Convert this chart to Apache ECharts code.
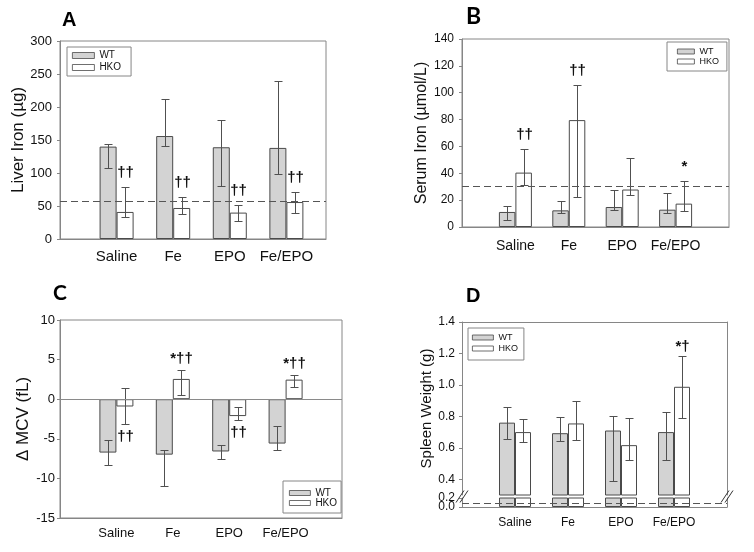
<!DOCTYPE html>
<html><head><meta charset="utf-8">
<script src="https://cdn.jsdelivr.net/npm/echarts@6/dist/echarts.min.js"></script>
<style>html,body{margin:0;padding:0;background:#fff}#c{width:754px;height:552px}</style>
</head><body><div id="c"></div>
<script>
// ---------- data ----------
const categories = ['Saline', 'Fe', 'EPO', 'Fe/EPO'];
const groupNames = ['WT', 'HKO'];

// A: Liver Iron (µg)
const liverWT = [140, 156, 139, 138];
const liverWTLow = [108, 141, 81, 98];
const liverWTHigh = [144, 212, 180, 240];
const liverHKO = [41, 47, 40, 56];
const liverHKOLow = [33, 38, 28, 40];
const liverHKOHigh = [79, 64, 51, 71];
const liverRef = 57;
const liverHKOMarks = ['††', '††', '††', '††'];
const liverTicks = [0, 50, 100, 150, 200, 250, 300];

// B: Serum Iron (µmol/L)
const serumWT = [11.2, 12.4, 14.9, 12.9];
const serumWTLow = [5.2, 10.2, 12.9, 10.7];
const serumWTHigh = [15.9, 19.2, 27.9, 25.1];
const serumHKO = [40.5, 79.6, 27.9, 17.4];
const serumHKOLow = [31.3, 22.6, 24.1, 12.2];
const serumHKOHigh = [58, 105.5, 51.7, 34.6];
const serumRef = 30;
const serumHKOMarks = ['††', '††', '', '*'];
const serumTicks = [0, 20, 40, 60, 80, 100, 120, 140];

// C: Δ MCV (fL)
const mcvWT = [-6.74, -7.0, -6.6, -5.6];
const mcvWTLow = [-8.25, -11.0, -7.5, -6.45];
const mcvWTHigh = [-5.2, -6.45, -5.8, -3.4];
const mcvHKO = [-0.92, 2.56, -2.13, 2.47];
const mcvHKOLow = [-3.1, 0.59, -2.6, 1.6];
const mcvHKOHigh = [1.43, 3.73, -1.0, 3.1];
const mcvHKOMarks = ['††', '*††', '††', '*††'];
const mcvTicks = [-15, -10, -5, 0, 5, 10];

// D: Spleen Weight (g)
const spleenWT = [0.76, 0.693, 0.71, 0.70];
const spleenWTLow = [0.657, 0.642, 0.388, 0.525];
const spleenWTHigh = [0.862, 0.796, 0.80, 0.826];
const spleenHKO = [0.70, 0.755, 0.617, 0.988];
const spleenHKOLow = [0.636, 0.649, 0.521, 0.787];
const spleenHKOHigh = [0.781, 0.898, 0.791, 1.182];
const spleenRef = 0.08;
const spleenHKOMarks = ['', '', '', '*†'];
const spleenUpperTicks = [0.4, 0.6, 0.8, 1.0, 1.2, 1.4];
const spleenLowerTicks = [0.0, 0.2];
const spleenBreak = [0.2, 0.3];

// ---------- styles ----------
const FONT = '"Liberation Sans", Arial, sans-serif';
const GRAY = '#d3d3d3', EDGE = '#4a4a4a', FRAME = '#868686', ERR = '#505050', TXT = '#111';

const chart = echarts.init(document.getElementById('c'), null, {renderer: 'canvas'});

const grids = [
  {left: 60, top: 41, width: 266, height: 198, show: true},
  {left: 462, top: 39, width: 267, height: 188, show: true},
  {left: 60, top: 320, width: 282, height: 198, show: true},
  {left: 462, top: 322, width: 265, height: 173, show: false},
  {left: 462, top: 498, width: 265, height: 9, show: false}
].map(g => Object.assign({borderColor: FRAME, borderWidth: 1, backgroundColor: 'transparent', outerBoundsMode: 'none', containLabel: false}, g));

function xAx(gi, max, fontSize, margin, opts) {
  return Object.assign({
    gridIndex: gi, type: 'value', min: 0, max: max, interval: 1,
    axisLine: {show: true, onZero: false, lineStyle: {color: FRAME, width: 1}},
    axisTick: {show: false}, splitLine: {show: false},
    axisLabel: {show: true, fontSize: fontSize, color: TXT, margin: margin, fontFamily: FONT,
      formatter: v => (Number.isInteger(v) && categories[v - 1]) ? categories[v - 1] : ''}
  }, opts || {});
}
function yAx(gi, ticks, fontSize, margin, name, nameSize, nameGap, opts) {
  return Object.assign({
    gridIndex: gi, type: 'value', min: ticks[0], max: ticks[ticks.length - 1], interval: ticks[1] - ticks[0],
    axisLine: {show: true, onZero: false, lineStyle: {color: FRAME, width: 1}},
    axisTick: {show: true, inside: false, length: 3, lineStyle: {color: FRAME}},
    splitLine: {show: false},
    axisLabel: {fontSize: fontSize, color: TXT, margin: margin, fontFamily: FONT},
    name: name, nameLocation: 'middle', nameGap: nameGap,
    nameTextStyle: {fontSize: nameSize, color: TXT, fontFamily: FONT}
  }, opts || {});
}
function lowerLabelAxis(vals, showLine) {
  return {gridIndex: 4, type: 'value', position: 'left', min: spleenLowerTicks[0], max: spleenLowerTicks[1],
    axisLine: {show: showLine, onZero: false, lineStyle: {color: FRAME, width: 1}},
    axisTick: {show: true, length: 3, lineStyle: {color: FRAME}, customValues: vals},
    axisLabel: {fontSize: 12, color: TXT, margin: 7, fontFamily: FONT, customValues: vals,
      showMinLabel: true, showMaxLabel: true, formatter: v => v.toFixed(1)},
    splitLine: {show: false}};
}

const xAxes = [
  xAx(0, 4.7, 15, 10),
  xAx(1, 5, 14, 12),
  xAx(2, 5, 13, 9),
  xAx(3, 5, 12, 10, {position: 'top', axisLabel: {show: false}}),
  xAx(4, 5, 12, 10)
];
const yAxes = [
  yAx(0, liverTicks, 13, 8, 'Liver Iron (µg)', 17, 30),
  yAx(1, serumTicks, 12, 8, 'Serum Iron (µmol/L)', 16, 22),
  yAx(2, mcvTicks, 13, 5, 'Δ MCV (fL)', 17, 22),
  yAx(3, spleenUpperTicks, 12, 7, 'Spleen Weight (g)', 15, 19, {
    min: spleenBreak[1], max: spleenUpperTicks[spleenUpperTicks.length - 1], interval: null,
    axisTick: {show: true, length: 3, lineStyle: {color: FRAME}, customValues: spleenUpperTicks},
    axisLabel: {fontSize: 12, color: TXT, margin: 7, fontFamily: FONT, customValues: spleenUpperTicks,
      showMinLabel: true, showMaxLabel: true, formatter: v => v.toFixed(1)},
    nameLocation: 'middle'
  }),
  lowerLabelAxis([spleenLowerTicks[0]], true),
  {gridIndex: 3, type: 'value', position: 'right', min: spleenBreak[1], max: 1.4,
   axisLine: {show: true, onZero: false, lineStyle: {color: FRAME}}, axisTick: {show: false}, axisLabel: {show: false}, splitLine: {show: false}},
  {gridIndex: 4, type: 'value', position: 'right', min: 0, max: spleenBreak[0],
   axisLine: {show: true, onZero: false, lineStyle: {color: FRAME}}, axisTick: {show: false}, axisLabel: {show: false}, splitLine: {show: false}},
  lowerLabelAxis([spleenLowerTicks[1]], false)
];

function barSeries(gi, name, vals, color, bw, extra) {
  return Object.assign({
    type: 'bar', name: name, xAxisIndex: gi, yAxisIndex: gi, z: 2, clip: true,
    data: vals.map((v, k) => [k + 1, v]),
    barWidth: bw, barGap: '0%',
    itemStyle: {color: color, borderColor: EDGE, borderWidth: 1},
    emphasis: {disabled: true}, silent: true
  }, extra || {});
}
function refLine(value, type, color) {
  return {silent: true, symbol: 'none', label: {show: false},
    lineStyle: {type: type, color: color, width: 1}, emphasis: {disabled: true},
    data: [{yAxis: value}]};
}
function errSeries(gi, low, high, offsetPx, marks, place, markGap) {
  return {
    type: 'custom', xAxisIndex: gi, yAxisIndex: gi, z: 4, silent: true,
    data: low.map((l, k) => [k + 1, l, high[k]]),
    renderItem(params, api) {
      const p1 = api.coord([api.value(0), api.value(1)]);
      const p2 = api.coord([api.value(0), api.value(2)]);
      const x = Math.round(p1[0] + offsetPx) + 0.5;
      const yl = Math.round(p1[1]) + 0.5, yh = Math.round(p2[1]) + 0.5;
      const cw = 4;
      const st = {stroke: ERR, lineWidth: 1};
      const children = [
        {type: 'line', shape: {x1: x, y1: yl, x2: x, y2: yh}, style: st},
        {type: 'line', shape: {x1: x - cw, y1: yl, x2: x + cw, y2: yl}, style: st},
        {type: 'line', shape: {x1: x - cw, y1: yh, x2: x + cw, y2: yh}, style: st}
      ];
      const m = marks && marks[params.dataIndex];
      if (m) {
        const below = place && place[params.dataIndex] === 'below';
        children.push({type: 'text', style: {text: m, x: x, y: below ? yl + markGap : yh - markGap,
          align: 'center', verticalAlign: 'middle', font: 'bold 15px ' + FONT, fill: '#111'}});
      }
      return {type: 'group', children: children};
    }
  };
}

const series = [];
// A
series.push(barSeries(0, 'WT', liverWT, GRAY, 17, {markLine: refLine(liverRef, [7, 4], '#555')}));
series.push(barSeries(0, 'HKO', liverHKO, '#fff', 17));
series.push(errSeries(0, liverWTLow, liverWTHigh, -8.5));
series.push(errSeries(0, liverHKOLow, liverHKOHigh, 8.5, liverHKOMarks, null, 15));
// B
series.push(barSeries(1, 'WT', serumWT, GRAY, 16.5, {markLine: refLine(serumRef, [7, 4], '#555')}));
series.push(barSeries(1, 'HKO', serumHKO, '#fff', 16.5));
series.push(errSeries(1, serumWTLow, serumWTHigh, -8.25));
series.push(errSeries(1, serumHKOLow, serumHKOHigh, 8.25, serumHKOMarks, null, 15));
// C
series.push(barSeries(2, 'WT', mcvWT, GRAY, 17, {markLine: refLine(0, 'solid', '#8a8a8a')}));
series.push(barSeries(2, 'HKO', mcvHKO, '#fff', 17));
series.push(errSeries(2, mcvWTLow, mcvWTHigh, -8.5));
series.push(errSeries(2, mcvHKOLow, mcvHKOHigh, 8.5, mcvHKOMarks, ['below', 'above', 'below', 'above'], 12));
// D upper
series.push(barSeries(3, 'WT', spleenWT, GRAY, 16));
series.push(barSeries(3, 'HKO', spleenHKO, '#fff', 16));
series.push(errSeries(3, spleenWTLow, spleenWTHigh, -8));
series.push(errSeries(3, spleenHKOLow, spleenHKOHigh, 8, spleenHKOMarks, null, 10));
// D lower (broken part)
series.push(barSeries(4, 'WT', spleenWT, GRAY, 16, {markLine: refLine(spleenRef, [7, 4], '#555')}));
series.push(barSeries(4, 'HKO', spleenHKO, '#fff', 16));

function legend(left, top, padding, iw, ih, fs, lh, gap) {
  return {left: left, top: top, orient: 'vertical', icon: 'rect', itemWidth: iw, itemHeight: ih, itemGap: gap,
    padding: padding, borderColor: FRAME, borderWidth: 1, backgroundColor: 'transparent', selectedMode: false,
    itemStyle: {borderColor: EDGE, borderWidth: 0.8},
    textStyle: {fontSize: fs, lineHeight: lh, color: TXT, fontFamily: FONT}, data: groupNames};
}

const option = {
  animation: false,
  backgroundColor: '#ffffff',
  textStyle: {fontFamily: FONT},
  title: [
    {text: 'A', left: 62, top: 10, padding: 0, textStyle: {fontFamily: FONT, fontWeight: 'bold', fontSize: 20, color: '#000'}},
    {text: 'B', left: 466, top: 5, padding: 0, textStyle: {fontFamily: 'Lato', fontWeight: 'bold', fontSize: 23, color: '#000'}},
    {text: 'C', left: 53, top: 283, padding: 0, textStyle: {fontFamily: 'Lato', fontWeight: 'bold', fontSize: 21, color: '#000'}},
    {text: 'D', left: 466, top: 286, padding: 0, textStyle: {fontFamily: FONT, fontWeight: 'bold', fontSize: 20, color: '#000'}}
  ],
  legend: [
    legend(67, 47, [3, 10, 3, 5], 22, 6, 10, 11, 1),
    legend(667, 42, [5, 8, 5, 10], 17, 5, 9, 9, 1),
    legend(283, 481, [7, 4, 5, 6], 21, 5, 10, 10, 0),
    legend(468, 328, [4, 6, 6, 4], 21, 5, 9, 11, 0)
  ],
  grid: grids,
  xAxis: xAxes,
  yAxis: yAxes,
  series: series
};
chart.setOption(option);

// axis-break marks for panel D, positioned from the axes
const pUpL = chart.convertToPixel({gridIndex: 3}, [0, spleenBreak[1]]);
const pUpR = chart.convertToPixel({gridIndex: 3}, [5, spleenBreak[1]]);
const pLo = chart.convertToPixel({gridIndex: 4}, [0, spleenBreak[0]]);
const midY = (pUpL[1] + pLo[1]) / 2;
const marks = [];
[pUpL[0], pUpR[0]].forEach(x => {
  [-2, 2].forEach(d => {
    marks.push({type: 'line', silent: true, z: 10,
      shape: {x1: x + d - 4, y1: midY + 6, x2: x + d + 4, y2: midY - 6},
      style: {stroke: '#333', lineWidth: 1}});
  });
});
chart.setOption({graphic: marks});
</script>
</body></html>
